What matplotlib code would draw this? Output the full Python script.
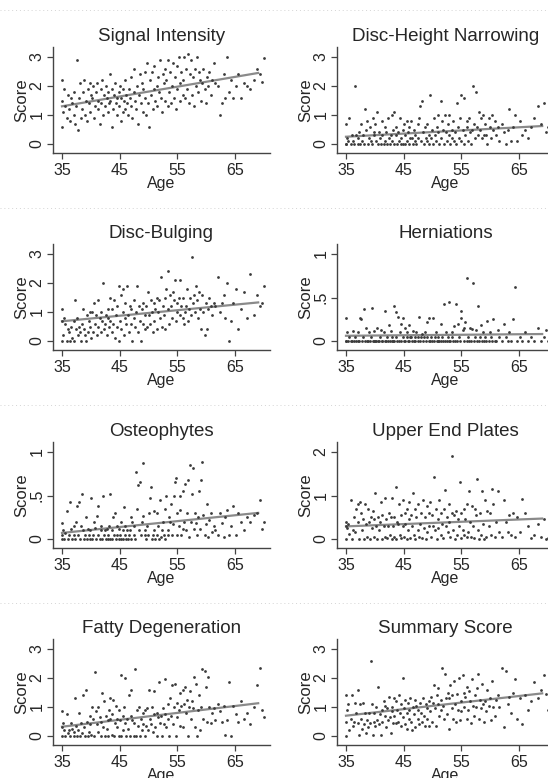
import matplotlib
matplotlib.use("Agg")
import matplotlib.pyplot as plt
from matplotlib.lines import Line2D

plt.rcParams['font.family'] = ['Liberation Sans', 'DejaVu Sans']

# ---------------- data ----------------
titles = ["Signal Intensity", "Disc-Height Narrowing", "Disc-Bulging", "Herniations",
          "Osteophytes", "Upper End Plates", "Fatty Degeneration", "Summary Score"]

age = [
    35.0, 35.0, 35.0, 35.1, 35.3, 35.5, 35.8, 36.0, 36.2, 36.4, 36.6, 36.8, 37.0, 37.1,
    37.3, 37.5, 37.6, 37.8, 38.0, 38.1, 38.3, 38.5, 38.6, 38.8, 39.0, 39.1, 39.3, 39.5, 39.6, 39.8, 39.9, 40.0,
    40.2, 40.4, 40.5, 40.7, 40.9, 41.0, 41.2, 41.3, 41.5, 41.7, 41.8, 42.0, 42.1, 42.3, 42.5, 42.6, 42.8, 42.9, 43.0, 43.1,
    43.3, 43.4, 43.6, 43.7, 43.9, 44.0, 44.2, 44.3, 44.5, 44.6, 44.8, 44.9, 45.0, 45.2, 45.3, 45.5, 45.6, 45.8, 45.9, 46.0, 46.1, 46.3,
    46.4, 46.6, 46.7, 46.9, 47.0, 47.2, 47.4, 47.5, 47.7, 47.9, 48.0, 48.2, 48.3, 48.5, 48.7, 48.8, 49.0, 49.1, 49.3, 49.4,
    49.6, 49.8, 49.9, 50.1, 50.2, 50.4, 50.6, 50.7, 50.9, 51.0, 51.2, 51.4, 51.5, 51.7, 51.8, 52.0, 52.1, 52.3, 52.5, 52.6,
    52.8, 52.9, 53.1, 53.3, 53.4, 53.6, 53.8, 53.9, 54.1, 54.2, 54.4, 54.6, 54.7, 54.9, 55.0, 55.2, 55.4, 55.5, 55.7, 55.9,
    56.0, 56.2, 56.3, 56.5, 56.7, 56.9, 57.0, 57.2, 57.4, 57.5, 57.7, 57.9, 58.0, 58.2, 58.4, 58.5, 58.7, 58.9,
    59.1, 59.3, 59.5, 59.7, 59.9, 60.1, 60.3, 60.5, 60.8, 61.0, 61.3, 61.6,
    62.0, 62.4, 62.7, 63.0, 63.3, 63.6, 64.0, 64.3,
    64.7, 65.1, 65.5, 66.0, 66.5, 67.0,
    67.6, 68.2, 68.8, 69.3, 69.7, 70.0,
]

signal_intensity = [
    0.6, 1.5, 2.2, 1.1, 1.9, 1.3, 0.9, 1.7, 1.2, 0.8, 1.6, 1.4, 1.0, 1.8,
    0.7, 1.3, 2.9, 0.5, 1.6, 2.1, 0.9, 1.2, 1.8, 2.2, 1.0, 1.5, 0.8, 1.9, 1.4, 2.1, 1.1, 1.7,
    1.6, 2.0, 0.9, 1.3, 1.8, 2.1, 1.2, 1.5, 0.7, 1.9, 1.4, 2.2, 1.0, 1.7, 1.3, 2.0, 1.6, 1.1, 1.8, 1.4,
    2.4, 1.5, 0.6, 1.9, 1.2, 1.7, 2.1, 1.4, 1.0, 1.6, 1.8, 1.3, 2.0, 0.8, 1.6, 1.1, 1.9, 1.5, 2.2, 1.2, 1.7, 1.4,
    1.0, 1.9, 1.6, 2.3, 1.3, 0.9, 1.8, 2.6, 1.5, 1.2, 2.0, 0.7, 1.7, 2.4, 1.4, 2.1, 1.1, 1.9, 2.5, 1.6,
    1.0, 2.8, 1.4, 0.6, 2.2, 1.7, 2.5, 1.2, 1.9, 2.7, 1.5, 2.0, 1.3, 2.3, 1.8, 2.9, 1.6, 1.1, 2.4, 2.1,
    2.6, 1.5, 2.2, 1.3, 2.9, 1.8, 2.5, 1.4, 2.0, 2.8, 1.6, 2.3, 1.2, 2.7, 1.9, 3.0, 1.5, 2.1, 2.5, 1.7,
    2.2, 3.0, 1.6, 2.6, 1.9, 3.1, 1.4, 2.4, 2.9, 1.7, 2.3, 1.3, 2.6, 2.0, 3.0, 1.8, 2.5, 2.2,
    1.5, 2.1, 2.6, 1.9, 1.4, 2.3, 2.0, 2.5, 1.7, 2.2, 2.8, 2.1,
    2.0, 1.0, 1.4, 2.4, 1.6, 3.0, 1.8, 2.2,
    1.6, 2.0, 2.4, 1.6, 2.1, 2.0,
    1.9, 2.2, 2.6, 2.4, 2.15, 2.95,
]

disc_height = [
    0, 0.7, 0, 0.2, 0.1, 0.9, 0, 0.3, 0.1, 0, 2.0, 0.3, 0.2, 0,
    0.4, 0, 0.7, 0.1, 0.3, 0, 1.2, 0.5, 0.8, 0, 0.2, 0.6, 0.1, 0, 0.9, 0.3, 0.4, 0.7,
    0.1, 1.1, 0, 0.4, 0.2, 0, 0.8, 0.3, 0, 0.6, 0.1, 0.4, 0, 0.9, 0.2, 0, 0.3, 1.0, 0.1, 0.5,
    1.1, 0, 0.3, 0.6, 0, 0.4, 0.1, 0.9, 0, 0.2, 0.5, 0, 0.7, 0.3, 0, 0.8, 0.1, 0.4, 0, 0.6, 0.2, 0.8,
    0.2, 0, 0.5, 0.1, 0.3, 0, 0.7, 0.2, 0.9, 1.3, 0.1, 1.5, 0.4, 0, 0.6, 0.2, 0.1, 0.7, 0.3, 0,
    1.7, 0.2, 0.5, 0, 0.9, 0.3, 0.1, 0.6, 0.4, 1.0, 0, 1.5, 0.2, 0.8, 0.5, 0, 1.0, 0.4, 0.1, 0.7,
    0.3, 1.0, 0, 0.5, 0.2, 0.8, 0.1, 0.4, 0, 1.4, 0.6, 0.2, 0.9, 0.1, 1.7, 0.5, 0, 1.6, 0.3, 0.8,
    0.6, 0.1, 0.9, 0.4, 0, 0.5, 2.0, 0.7, 0.2, 1.8, 0.6, 0.3, 1.1, 0.5, 0.9, 0.2, 1.0, 0.3,
    0.7, 0.3, 0, 0.9, 0.6, 0.2, 1.0, 0.5, 0.8, 0.3, 0.6, 0.1,
    0.7, 0.4, 0, 0.5, 1.2, 0.1, 0.6, 1.0,
    0.1, 0.8, 0.3, 0.5, 0.2, 0.6,
    0.9, 1.3, 0.7, 1.4, 0.4, 0.6,
]

disc_bulging = [
    1.1, 0.7, 0, 0.2, 0.8, 0.6, 0, 0.4, 0.3, 0, 0.5, 0.1, 0.7, 0,
    1.4, 0.4, 0.8, 0.2, 0.5, 0.3, 0, 0.6, 1.1, 0.4, 0.2, 0, 0.9, 0.3, 0.7, 1.0, 0.5, 0.1,
    1.0, 0.3, 1.3, 0.6, 0.9, 0.2, 1.4, 0.5, 0.8, 1.0, 0.3, 0.7, 2.0, 0.4, 0.6, 0.9, 0.2, 0.8, 1.1, 0.5,
    0.7, 1.5, 0.3, 1.1, 0.6, 1.4, 0.1, 0.9, 0.5, 1.2, 0, 1.9, 0.7, 1.6, 0.4, 1.0, 1.8, 0.2, 1.3, 0.8, 0.6, 1.9,
    0.9, 0.3, 1.2, 0.6, 1.1, 0, 0.8, 1.4, 0.5, 1.0, 1.9, 0.3, 1.2, 0.7, 0, 1.1, 0.6, 1.3, 0.4, 0.9,
    1.2, 0.5, 1.7, 0.9, 0.6, 1.4, 1.0, 0.3, 1.3, 0.7, 1.1, 1.5, 0.4, 1.0, 1.4, 0.8, 2.2, 0.5, 1.2, 0.9,
    1.5, 0.4, 1.8, 1.1, 2.4, 0.6, 1.6, 1.2, 0.8, 1.7, 1.4, 2.1, 0.7, 1.3, 1.0, 1.5, 0.9, 2.1, 1.2, 0.8,
    1.5, 0.6, 1.0, 1.2, 1.8, 0.7, 1.1, 1.5, 0.9, 2.9, 1.3, 1.6, 1.0, 1.9, 1.4, 0.8, 1.7, 1.1,
    0.4, 1.6, 1.0, 0.2, 1.3, 0.4, 1.1, 1.5, 1.2, 0.9, 1.3, 1.2,
    2.2, 1.0, 1.3, 1.6, 0.8, 2.0, 0, 0.7,
    1.3, 1.8, 0.4, 1.1, 1.7, 0.8,
    2.3, 0.9, 1.6, 1.2, 1.3, 1.9,
]

herniations = [
    0, 0.27, 0, 0.1, 0, 0.05, 0, 0, 0.12, 0, 0.05, 0, 0, 0.1,
    0, 0.27, 0.25, 0, 0.05, 0.37, 0, 0.15, 0, 0, 0.1, 0, 0.05, 0.38, 0, 0.12, 0, 0,
    0, 0.15, 0, 0, 0.05, 0.13, 0, 0, 0.1, 0, 0.35, 0, 0.05, 0, 0.18, 0, 0.12, 0, 0.05, 0,
    0.4, 0, 0.33, 0.05, 0, 0.28, 0, 0.1, 0.2, 0, 0.05, 0.26, 0, 0.15, 0, 0.05, 0.1, 0, 0.18, 0, 0.05, 0.05,
    0, 0.12, 0, 0.05, 0, 0.1, 0, 0.05, 0.28, 0, 0.05, 0.08, 0, 0.05, 0.1, 0, 0.05, 0.22, 0, 0.27,
    0, 0.05, 0, 0.27, 0, 0.05, 0.1, 0, 0.05, 0, 0, 0.2, 0, 0.05, 0, 0.43, 0, 0.1, 0, 0.05,
    0, 0.45, 0, 0.1, 0.05, 0, 0.17, 0, 0.42, 0, 0.2, 0.05, 0, 0.35, 0.27, 0.13, 0, 0.15, 0.22, 0,
    0.72, 0.05, 0, 0.15, 0, 0.14, 0.67, 0, 0.05, 0.13, 0, 0.4, 0, 0.05, 0.18, 0, 0.1, 0,
    0.05, 0, 0.23, 0, 0.1, 0.05, 0, 0.25, 0, 0, 0.13, 0.05,
    0, 0.2, 0.05, 0, 0.1, 0, 0.25, 0.62,
    0, 0.05, 0, 0.1, 0, 0.05,
    0, 0.15, 0, 0.05, 0.13, 0,
]

osteophytes = [
    0.05, 0.18, 0, 0.1, 0, 0.07, 0.32, 0, 0.05, 0.43, 0.12, 0, 0.15, 0.05,
    0, 0.2, 0.38, 0.05, 0.42, 0, 0.15, 0.52, 0.1, 0, 0.05, 0.25, 0, 0.12, 0.05, 0, 0.1, 0.47,
    0, 0.05, 0.2, 0.13, 0, 0.26, 0.05, 0.38, 0, 0.1, 0.15, 0, 0.5, 0.05, 0.1, 0, 0.12, 0.05, 0, 0.15,
    0, 0.52, 0.1, 0, 0.25, 0.05, 0.3, 0, 0.15, 0.05, 0, 0.12, 0.05, 0, 0.2, 0.1, 0, 0.37, 0.05, 0.15, 0, 0.1,
    0, 0.05, 0.1, 0.25, 0, 0.2, 0.05, 0.15, 0, 0.77, 0.35, 0.62, 0.1, 0.65, 0.05, 0.2, 0.87, 0.27, 0.05, 0.1,
    0, 0.15, 0.05, 0.3, 0.47, 0.6, 0, 0.05, 0.32, 0.1, 0, 0.3, 0.05, 0.15, 0, 0.45, 0.02, 0.1, 0.2, 0.05,
    0.35, 0, 0.5, 0.1, 0.05, 0.25, 0.2, 0.4, 0.05, 0.17, 0.5, 0.65, 0.7, 0.05, 0.3, 0.15, 0.5, 0.33, 0.05, 0.12,
    0.55, 0.2, 0.63, 0.1, 0.3, 0.68, 0.02, 0.85, 0.2, 0.52, 0.82, 0.12, 0.3, 0.18, 0.05, 0.25, 0.55, 0.12,
    0.68, 0.88, 0.28, 0.05, 0.17, 0.4, 0.02, 0.22, 0.3, 0.08, 0.15, 0.1,
    0.05, 0.3, 0.18, 0.02, 0.25, 0.33, 0.05, 0.15,
    0.38, 0.05, 0.3, 0.2, 0.1, 0.25,
    0.2, 0.28, 0.3, 0.45, 0.12, 0.2,
]

upper_end_plates = [
    0.4, 0.3, 0, 0.25, 0.35, 0.12, 0.9, 0, 0.2, 0.5, 0.15, 0.7, 0.8, 0.4,
    0, 0.85, 0.6, 0.2, 0.45, 0, 0.8, 0.35, 0.05, 0.7, 0.4, 0, 0.5, 0.25, 0.65, 0.05, 0.45, 1.05,
    0.3, 0, 0.5, 0.2, 0.4, 0.85, 0, 0.55, 0.3, 0.05, 0.95, 0.45, 0.02, 0.3, 0.6, 0.1, 0.5, 0, 0.95, 0.3,
    0.05, 0.5, 1.2, 0, 0.4, 0.35, 0.8, 0.1, 0.55, 0.02, 0.3, 0.9, 0.05, 0.6, 0.35, 0, 0.7, 0.2, 0.85, 0.45, 0.02, 0.55,
    0.3, 1.05, 0.1, 0.7, 0, 0.5, 0.2, 0.8, 0.05, 0.35, 0.6, 0.02, 0.9, 0.25, 0.5, 0, 0.75, 0.15, 0.6, 0.3,
    0.85, 0.05, 0.55, 0.3, 1.42, 0.2, 0.7, 0, 0.45, 0.25, 0.9, 0.1, 0.6, 0.35, 0.02, 0.7, 1.12, 0.3, 0.5, 0.15,
    0.8, 0.4, 0.05, 0.6, 1.9, 0.2, 0.55, 0, 0.65, 0.1, 0.45, 0.3, 1.3, 0.02, 0.6, 0.2, 0.7, 0.1, 0.45, 0.05,
    0.8, 0.15, 1.1, 0.4, 0.05, 0.75, 0.3, 0.02, 0.7, 0.55, 1.38, 0.2, 0, 0.6, 0.1, 1.1, 0.35, 0,
    0.9, 0.05, 0.65, 0.3, 0.6, 0.1, 1.15, 0.8, 0.05, 0.4, 1.1, 0.15,
    0.05, 0.9, 0.4, 0.15, 0.55, 0.1, 0.6, 0.05,
    0.5, 0.15, 0.92, 0.6, 0.3, 0.02,
    0.1, 0.35, 0.05, 0.45, 0, 0.02,
]

fatty_degeneration = [
    0, 0.85, 0.3, 0.45, 0.2, 0, 0.75, 0.1, 0.2, 0, 0.45, 0.25, 0, 0.15,
    1.3, 0.35, 0, 0.2, 0.8, 0, 0.45, 0.1, 1.4, 0.3, 0, 1.6, 0.5, 0, 0.15, 0.7, 0.4, 0.05,
    1.0, 0.6, 0, 2.2, 0.85, 0.4, 1.0, 0.15, 0.65, 0, 0.5, 1.5, 0.3, 1.2, 0, 0.7, 0.25, 0.55, 0, 0.9,
    0.6, 1.3, 0.05, 0.75, 1.25, 0, 0.45, 1.05, 0.6, 0.3, 0, 0.9, 0.55, 0, 2.1, 0.7, 0.2, 1.0, 0.45, 2.0, 0, 0.6,
    0.25, 1.4, 0, 0.7, 1.6, 0.55, 0, 0.45, 2.3, 0, 0.9, 0.35, 1.0, 0, 0.6, 0.2, 0.8, 0.4, 0, 0.9,
    0.35, 0.95, 0.2, 1.6, 0.6, 0.4, 1.0, 0.15, 0.75, 1.55, 0.3, 0.8, 0, 0.65, 1.85, 0.45, 0.7, 0, 0.95, 0.4,
    0.75, 1.95, 0.3, 0.6, 1.1, 0, 1.3, 0.7, 1.75, 0.4, 1.0, 1.8, 0, 0.65, 1.15, 0.9, 1.5, 0.35, 1.05, 1.6,
    0.3, 1.1, 1.7, 0.8, 1.25, 0, 1.0, 1.55, 0.6, 1.2, 0.95, 2.05, 0.3, 1.8, 0, 0.9, 1.4, 0.2,
    1.0, 2.3, 0.6, 2.25, 1.7, 0.5, 2.05, 1.0, 0.45, 0.8, 0.95, 0.55,
    1.1, 0.85, 0.5, 1.05, 0.05, 0.55, 1.85, 0,
    1.05, 0.75, 0.5, 1.2, 0.6, 0.8,
    0.4, 1.0, 1.75, 2.35, 0.9, 0.65,
]

summary_score = [
    0.5, 1.4, 0, 0.9, 1.1, 0.2, 0.6, 1.4, 0.35, 0.5, 1.15, 0.8, 1.6, 0.45,
    0.05, 1.1, 0.6, 0.25, 1.15, 0.4, 0.8, 0.1, 0.55, 0.3, 0.8, 0.45, 2.6, 1.1, 0.05, 0.5, 0.8, 0.35,
    1.0, 0.55, 1.7, 0.4, 0.75, 0.05, 0.9, 0.5, 1.2, 0.7, 1.05, 0.3, 0.95, 0.55, 1.35, 0.65, 0.1, 0.85, 1.0, 0.45,
    1.3, 0.7, 0.45, 1.2, 0.9, 0.5, 1.4, 0.8, 0.35, 1.1, 0.65, 2.0, 0.95, 0.4, 1.25, 0.8, 0.25, 1.15, 0.6, 0.9, 1.3, 0.5,
    0.2, 1.0, 0.75, 1.25, 0.3, 1.05, 0.6, 0.9, 0.4, 1.15, 0.8, 0.5, 1.3, 0.7, 0.35, 1.1, 0.95, 0.6, 1.2, 0.35,
    0.85, 1.35, 0.5, 1.15, 1.75, 0.95, 0.35, 1.4, 1.1, 1.65, 0.7, 1.25, 0.9, 2.35, 1.05, 0.6, 2.15, 1.3, 0.75, 1.5,
    0.25, 1.3, 1.75, 0.95, 1.4, 0.6, 1.9, 1.1, 0.5, 1.45, 0.9, 2.0, 0.55, 1.2, 0.85, 2.1, 1.5, 1.0, 1.35, 0.6,
    1.7, 0.9, 1.55, 1.2, 0.45, 1.95, 1.05, 0.7, 1.4, 1.0, 1.65, 2.15, 0.6, 1.25, 0.95, 1.8, 1.1, 0.5,
    1.2, 0.85, 1.6, 1.05, 1.3, 0.55, 1.9, 1.0, 0.7, 1.25, 1.4, 1.0,
    2.35, 0.3, 2.25, 1.1, 1.35, 0.8, 1.5, 1.95,
    0.6, 1.3, 0.4, 1.4, 0.9, 1.2,
    1.85, 1.3, 1.6, 2.1, 1.45, 0.9,
]

scores = [signal_intensity, disc_height, disc_bulging, herniations,
          osteophytes, upper_end_plates, fatty_degeneration, summary_score]

# fitted regression line: value at start / end age
fit_age = [35, 69]
fit_values = [[1.30, 2.45], [0.25, 0.62], [0.68, 1.33], [0.06, 0.08],
              [0.07, 0.30], [0.29, 0.47], [0.32, 1.13], [0.70, 1.47]]

x_ticks = [35, 45, 55, 65]
y_ticks = [[0, 1, 2, 3], [0, 1, 2, 3], [0, 1, 2, 3], [0, 0.5, 1],
           [0, 0.5, 1], [0, 1, 2], [0, 1, 2, 3], [0, 1, 2, 3]]
y_tick_labels = [["0", "1", "2", "3"], ["0", "1", "2", "3"], ["0", "1", "2", "3"], ["0", ".5", "1"],
                 ["0", ".5", "1"], ["0", "1", "2"], ["0", "1", "2", "3"], ["0", "1", "2", "3"]]

# ---------------- layout (pixels) ----------------
W, H = 548, 778
fig = plt.figure(figsize=(W / 100, H / 100), dpi=100)
fig.patch.set_facecolor("white")

# faint dotted scan lines seen in the reference between rows
for yy in [10, 208, 405, 603]:
    fig.add_artist(Line2D([0, 1], [1 - yy / H, 1 - yy / H], transform=fig.transFigure,
                          color="#d4d4d4", lw=0.7, ls=(0, (1, 3))))

col_left = [53, 337]
ax_w = 217
row_zero = [144, 341, 539, 736]   # pixel y of the value 0
ax_h = 106
below_zero = 9
top_tick_px = 87

txt_col = "#262626"
for i in range(8):
    r, c = divmod(i, 2)
    left = col_left[c]
    bottom_px = row_zero[r] + below_zero
    ax = fig.add_axes([left / W, 1 - bottom_px / H, ax_w / W, ax_h / H])
    ax.set_facecolor("none")
    ppu = top_tick_px / y_ticks[i][-1]
    ax.set_ylim(-below_zero / ppu, (ax_h - below_zero) / ppu)
    ax.set_xlim(35 - 9 / 5.77, 35 - 9 / 5.77 + ax_w / 5.77)

    n = min(len(age), len(scores[i]))
    ax.scatter(age[:n], scores[i][:n], s=4, marker="o", color="#3a3a3a",
               linewidths=0, zorder=3, clip_on=False)
    ax.plot(fit_age, fit_values[i], color="#8a8a8a", lw=1.6, zorder=2)

    for s in ["top", "right"]:
        ax.spines[s].set_visible(False)
    for s in ["left", "bottom"]:
        ax.spines[s].set_color("#444444")
        ax.spines[s].set_linewidth(1.0)

    ax.set_xticks(x_ticks)
    ax.set_xticklabels([str(t) for t in x_ticks])
    ax.set_yticks(y_ticks[i])
    ax.set_yticklabels(y_tick_labels[i], rotation=90, va="center")
    ax.tick_params(axis="both", direction="out", length=4, width=0.9,
                   colors="#444444", labelcolor=txt_col, labelsize=11.5)
    ax.tick_params(axis="x", pad=3)
    ax.tick_params(axis="y", pad=2)
    ax.set_xlabel("Age", fontsize=11.5, color=txt_col, labelpad=-1)
    ax.set_ylabel("Score", fontsize=12, color=txt_col, labelpad=0)
    ax.set_title(titles[i], fontsize=13.5, color=txt_col, pad=4)

fig.savefig("out.png", dpi=100, facecolor="white")
